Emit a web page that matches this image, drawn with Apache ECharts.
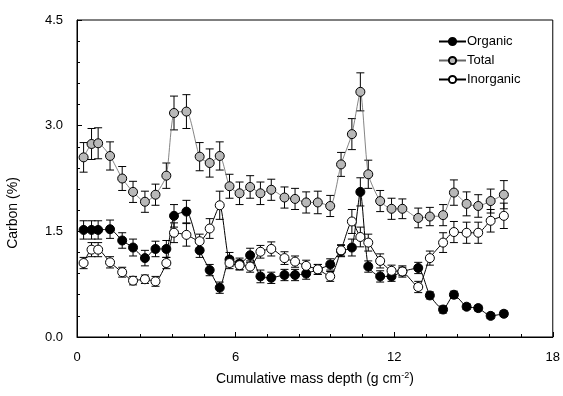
<!DOCTYPE html>
<html>
<head>
<meta charset="utf-8">
<script src="https://cdn.jsdelivr.net/npm/echarts@6/dist/echarts.min.js"></script>
<style>
  html, body { margin: 0; padding: 0; background: #fff; }
  #chart { width: 563px; height: 396px; }
</style>
</head>
<body>
<div id="chart"></div>
<script>
  /** Data */
  var depth = [0.25, 0.55, 0.80, 1.25, 1.71, 2.12, 2.57, 2.97, 3.38, 3.67, 4.14, 4.64, 5.02,
    5.40, 5.77, 6.15, 6.55, 6.94, 7.35, 7.85, 8.25, 8.67, 9.11, 9.58, 9.99, 10.40, 10.72,
    11.02, 11.47, 11.90, 12.31, 12.91, 13.35, 13.85, 14.26, 14.74, 15.18, 15.65, 16.15];

  var organic = [1.52, 1.52, 1.52, 1.53, 1.37, 1.27, 1.12, 1.25, 1.25, 1.72, 1.78, 1.23, 0.95,
    0.70, 1.10, 1.04, 1.16, 0.86, 0.84, 0.88, 0.88, 0.90, 0.96, 1.03, 1.22, 1.27, 2.06,
    1.00, 0.86, 0.86, 0.93, 0.98, 0.59, 0.39, 0.60, 0.43, 0.41, 0.30, 0.33];
  var organicErr = [0.13, 0.13, 0.13, 0.13, 0.11, 0.12, 0.11, 0.11, 0.12, 0.16, 0.16, 0.10, 0.08,
    0.08, 0.10, 0.08, 0.10, 0.09, 0.08, 0.08, 0.08, 0.08, 0.07, 0.08, 0.08, 0.12, 0.20,
    0.08, 0.08, 0.07, 0.06, 0.08, 0.05, 0.05, 0.05, 0.04, 0.04, 0.04, 0.04];

  var total = [2.55, 2.74, 2.75, 2.57, 2.25, 2.06, 1.92, 2.02, 2.29, 3.18, 3.20, 2.56, 2.47,
    2.57, 2.14, 2.04, 2.13, 2.04, 2.09, 1.98, 1.96, 1.91, 1.91, 1.86, 2.45, 2.88, 3.48,
    2.31, 1.93, 1.82, 1.82, 1.69, 1.71, 1.73, 2.05, 1.89, 1.86, 1.93, 2.02];
  var totalErr = [0.21, 0.22, 0.22, 0.20, 0.17, 0.15, 0.15, 0.15, 0.18, 0.24, 0.24, 0.20, 0.20,
    0.20, 0.17, 0.16, 0.16, 0.16, 0.15, 0.15, 0.15, 0.15, 0.16, 0.15, 0.17, 0.22, 0.27,
    0.20, 0.15, 0.15, 0.14, 0.14, 0.13, 0.15, 0.18, 0.17, 0.16, 0.17, 0.20];

  var inorganic = [1.05, 1.24, 1.24, 1.06, 0.92, 0.80, 0.82, 0.79, 1.05, 1.48, 1.45, 1.36, 1.54,
    1.87, 1.05, 1.02, 1.00, 1.21, 1.25, 1.12, 1.07, 1.01, 0.96, 0.86, 1.23, 1.64, 1.42,
    1.34, 1.08, 0.94, 0.93, 0.71, 1.12, 1.34, 1.49, 1.48, 1.48, 1.65, 1.72];
  var inorganicErr = [0.08, 0.10, 0.10, 0.08, 0.07, 0.06, 0.06, 0.07, 0.08, 0.14, 0.16, 0.10, 0.14,
    0.20, 0.08, 0.07, 0.08, 0.09, 0.10, 0.09, 0.08, 0.08, 0.07, 0.07, 0.08, 0.17, 0.14,
    0.12, 0.10, 0.08, 0.08, 0.08, 0.10, 0.14, 0.15, 0.15, 0.15, 0.16, 0.18];

  var xTicks = [0, 6, 12, 18];
  var yTicks = [0.0, 1.5, 3.0, 4.5];

  var font = 'Liberation Sans';

  function pairs(vals) {
    return depth.map(function (d, i) { return [d, vals[i]]; });
  }
  function bars(vals, errs) {
    return depth.map(function (d, i) { return [d, vals[i] - errs[i], vals[i] + errs[i]]; });
  }

  /** error bar renderer */
  function renderErr(params, api) {
    var x = api.value(0);
    var top = api.coord([x, api.value(2)]);
    var bot = api.coord([x, api.value(1)]);
    var w = 4;
    var st = { stroke: '#000', lineWidth: 1 };
    return {
      type: 'group',
      children: [
        { type: 'line', shape: { x1: top[0], y1: top[1], x2: bot[0], y2: bot[1] }, style: st },
        { type: 'line', shape: { x1: top[0] - w, y1: top[1], x2: top[0] + w, y2: top[1] }, style: st },
        { type: 'line', shape: { x1: bot[0] - w, y1: bot[1], x2: bot[0] + w, y2: bot[1] }, style: st }
      ]
    };
  }

  function errSeries(vals, errs) {
    return {
      type: 'custom',
      renderItem: renderErr,
      encode: { x: 0, y: [1, 2] },
      data: bars(vals, errs),
      z: 1,
      silent: true
    };
  }

  function lineSeries(name, vals, fill, lineColor, lineWidth) {
    return {
      name: name,
      type: 'line',
      data: pairs(vals),
      smooth: 0.2,
      symbol: 'circle',
      symbolSize: 9,
      z: 3,
      lineStyle: { color: lineColor, width: lineWidth },
      itemStyle: { color: fill, borderColor: '#000', borderWidth: 1 }
    };
  }

  var option = {
    animation: false,
    backgroundColor: '#fff',
    textStyle: { fontFamily: font, color: '#000' },
    grid: {
      left: 77, right: 10, top: 20, bottom: 59,
      show: true, borderColor: '#000', borderWidth: 1
    },
    legend: {
      orient: 'vertical',
      left: 433, top: 30,
      itemWidth: 27, itemHeight: 9, itemGap: 6,
      data: ['Organic', 'Total', 'Inorganic'],
      textStyle: { fontFamily: font, fontSize: 13, color: '#000', padding: [0, 0, 0, -4] }
    },
    xAxis: {
      type: 'value',
      min: 0, max: 18, interval: 6,
      name: 'Cumulative mass depth (g cm{sup|-2})',
      nameLocation: 'middle',
      nameGap: 34,
      nameTextStyle: {
        fontFamily: font, fontSize: 14, color: '#000',
        rich: { sup: { fontFamily: font, fontSize: 9, verticalAlign: 'top', padding: [0, 0, 8, 0] } }
      },
      axisLine: { lineStyle: { color: '#000', width: 1 } },
      axisTick: { inside: true, length: 5, lineStyle: { color: '#000' } },
      minorTick: { show: true, splitNumber: 5, length: 3, lineStyle: { color: '#000' } },
      axisLabel: {
        fontFamily: font, fontSize: 13, color: '#000', margin: 14,
        formatter: function (v) { return xTicks.indexOf(v) >= 0 ? String(v) : ''; }
      },
      splitLine: { show: false }
    },
    yAxis: {
      type: 'value',
      min: 0, max: 4.5, interval: 1.5,
      axisLine: { show: true, lineStyle: { color: '#000', width: 1 } },
      axisTick: { show: true, inside: true, length: 5, lineStyle: { color: '#000' } },
      minorTick: { show: true, splitNumber: 5, length: 3, lineStyle: { color: '#000' } },
      axisLabel: {
        fontFamily: font, fontSize: 13, color: '#000', margin: 14,
        formatter: function (v) { return yTicks.indexOf(v) >= 0 ? v.toFixed(1) : ''; }
      },
      splitLine: { show: false }
    },
    graphic: [{
      type: 'text',
      x: 13, y: 213,
      rotation: Math.PI / 2,
      style: {
        text: 'Carbon (%)',
        font: '14px "Liberation Sans"',
        fill: '#000',
        align: 'center',
        verticalAlign: 'middle'
      }
    }],
    series: [
      errSeries(total, totalErr),
      errSeries(organic, organicErr),
      errSeries(inorganic, inorganicErr),
      lineSeries('Total', total, '#b8b8b8', '#666', 0.8),
      lineSeries('Organic', organic, '#000', '#000', 1),
      lineSeries('Inorganic', inorganic, '#fff', '#000', 1)
    ]
  };

  echarts.init(document.getElementById('chart')).setOption(option);
</script>
</body>
</html>
